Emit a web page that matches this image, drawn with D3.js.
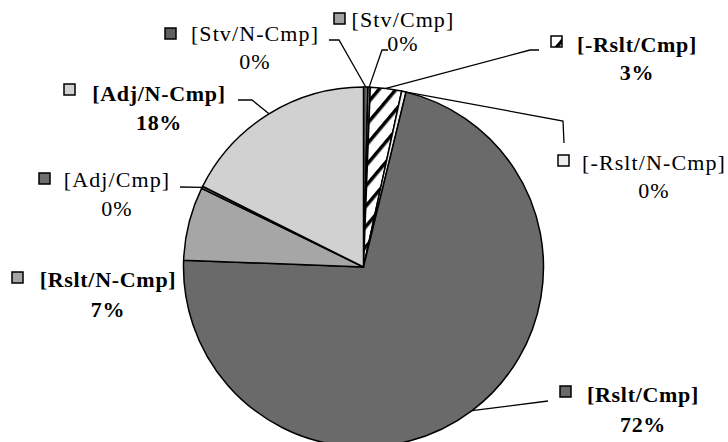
<!DOCTYPE html>
<html><head><meta charset="utf-8">
<script src="https://cdn.jsdelivr.net/npm/d3@7"></script>
<style>body{margin:0;background:#fff}svg{display:block}</style>
</head><body>
<svg id="c" width="728" height="442"></svg>
<script>
const categories = ["[Stv/N-Cmp]","[Stv/Cmp]","[-Rslt/Cmp]","[-Rslt/N-Cmp]","[Rslt/Cmp]","[Rslt/N-Cmp]","[Adj/Cmp]","[Adj/N-Cmp]"];
const values = [0.4, 0.2, 2.8, 0.4, 71.8, 6.6, 0.2, 17.6];
const boldLabels = [false,false,true,false,true,true,false,true];

const fills = ["#5f5f5f","#a3a3a3","url(#hatch)","#eeeeee","#6a6a6a","#a6a6a6","#6e6e6e","#d1d1d1"];
// label layout: [center x, name baseline, pct baseline, square x, square y]
const layout = [
  {cx:255, y1:41, y2:69, sx:165, sy:28, lead:[[329,40],[339,40]]},
  {cx:403, y1:27, y2:51, sx:334, sy:13, lead:[[388,50],[382,50]]},
  {cx:637, y1:52, y2:80, sx:551, sy:36, lead:[[539,50],[530,50]]},
  {cx:654, y1:170, y2:198, sx:558, sy:155, lead:[[564,143],[563,121]]},
  {cx:643, y1:402, y2:432, sx:560, sy:386, lead:[[548,401]]},
  {cx:108, y1:287, y2:317, sx:12, sy:272, lead:null},
  {cx:117, y1:187, y2:216, sx:39, sy:173, lead:[[180,187]]},
  {cx:159, y1:101, y2:130, sx:64, sy:84, lead:[[238,100],[252,100]]}
];
const cx = 363.5, cy = 267, R = 180;
const svg = d3.select("#c");
const defs = svg.append("defs");
const pat = defs.append("pattern").attr("id","hatch").attr("patternUnits","userSpaceOnUse")
  .attr("width",13).attr("height",13).attr("patternTransform","rotate(40)");
pat.append("rect").attr("width",13).attr("height",13).attr("fill","#fff");
pat.append("rect").attr("x",0).attr("y",0).attr("width",3.5).attr("height",13).attr("fill","#000");

const total = d3.sum(values);
const data = categories.map((c,i)=>({name:c, value:values[i], bold:boldLabels[i], i}));
const pie = d3.pie().value(d=>d.value).sort(null).startAngle(0).endAngle(2*Math.PI);
const arcs = pie(data);
const arc = d3.arc().innerRadius(0).outerRadius(R);
const g = svg.append("g").attr("transform",`translate(${cx},${cy})`);
g.selectAll("path").data(arcs).join("path")
  .attr("d",arc).attr("fill",d=>fills[d.data.i])
  .attr("stroke","#000").attr("stroke-width",1.5).attr("stroke-linejoin","round");

const fmt = d3.format(".0%");
// leaders
arcs.forEach(a=>{
  const L = layout[a.data.i];
  if(!L.lead) return;
  const m = (a.startAngle+a.endAngle)/2;
  const p = [cx + R*Math.sin(m), cy - R*Math.cos(m)];
  const pts = L.lead.concat([p]);
  svg.append("path").attr("d", d3.line()(pts)).attr("fill","none")
    .attr("stroke","#000").attr("stroke-width",1.3);
});
// labels
data.forEach(d=>{
  const L = layout[d.i];
  const t = svg.append("text").attr("font-family","'Liberation Serif','Times New Roman',serif")
    .attr("font-size", 22).attr("font-weight", d.bold?"bold":"normal")
    .attr("letter-spacing", d.bold?0.7:1.1)
    .attr("fill","#000").attr("text-anchor","middle");
  t.append("tspan").attr("x",L.cx).attr("y",L.y1).text(d.name);
  t.append("tspan").attr("x",L.cx).attr("y",L.y2).text(fmt(d.value/total));
  svg.append("rect").attr("x",L.sx).attr("y",L.sy).attr("width",11).attr("height",11)
    .attr("fill",fills[d.i]).attr("stroke","#000").attr("stroke-width",1.5);
});
</script>
</body></html>
